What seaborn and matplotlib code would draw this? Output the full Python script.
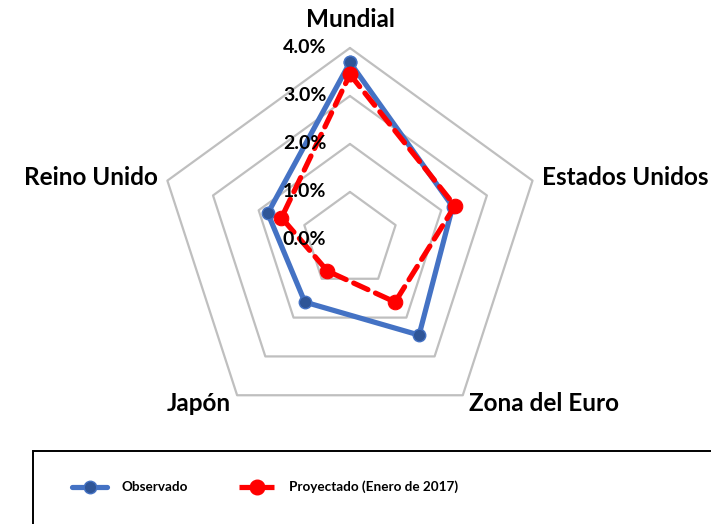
import numpy as np
import matplotlib
matplotlib.use("Agg")
import matplotlib.pyplot as plt
from matplotlib.lines import Line2D
from matplotlib.patches import Rectangle
from matplotlib.legend_handler import HandlerLine2D
import seaborn as sns

# radar data (annual growth, %)
categories = ["Mundial", "Estados Unidos", "Zona del Euro", "Japón", "Reino Unido"]
observado = [3.7, 2.25, 2.45, 1.6, 1.8]
proyectado = [3.45, 2.3, 1.6, 0.8, 1.5]
ticks = [1, 2, 3, 4]
tick_labels = ["0.0%", "1.0%", "2.0%", "3.0%", "4.0%"]
label_pos = [(4.6, "center"), (4.2, "left"), (4.22, "left"), (4.22, "right"), (4.2, "right")]

sns.set_theme(style="white")
plt.rcParams["font.family"] = ["Lato", "DejaVu Sans"]
plt.rcParams["text.color"] = "black"


class EndMarker(HandlerLine2D):
    # Excel-style legend key: marker sits near the right end of the line
    def get_xdata(self, legend, xdescent, ydescent, width, height, fontsize):
        xdata = np.array([-xdescent, -xdescent + width])
        return xdata, np.array([-xdescent + width * 0.88])


angles = np.linspace(0, 2 * np.pi, len(categories), endpoint=False)
closed = np.append(angles, angles[0])

fig = plt.figure(figsize=(7.11, 5.24), dpi=100)
ax = fig.add_axes([0.2222, 0.1756, 0.540, 0.733], projection="polar")
ax.set_theta_zero_location("N")
ax.set_theta_direction(-1)
ax.set_ylim(0, 4)
ax.grid(False)
ax.spines["polar"].set_visible(False)
ax.set_xticks([])
ax.set_yticks([])
ax.patch.set_alpha(0)

# pentagon gridlines
for t in ticks:
    ax.plot(closed, [t] * len(closed), color="#bfbfbf", lw=1.6, clip_on=False, zorder=1)

sns.lineplot(x=closed, y=observado + observado[:1], ax=ax, sort=False, estimator=None,
             color="#4472C4", lw=3.75, marker="o", markersize=9,
             markerfacecolor="#2F5597", markeredgecolor="#4472C4", markeredgewidth=1,
             clip_on=False, zorder=3)
sns.lineplot(x=closed, y=proyectado + proyectado[:1], ax=ax, sort=False, estimator=None,
             color="#FF0000", lw=3.75, linestyle=(0, (3, 1.6)), dash_capstyle="round",
             marker="o", markersize=10.5, markerfacecolor="#FF0000", markeredgecolor="#FF0000",
             clip_on=False, zorder=4)
ax.set_xlabel("")
ax.set_ylabel("")

# radial tick labels
for i, lab in enumerate(tick_labels):
    ax.annotate(lab, xy=(0, i), xytext=(-17, 0), textcoords="offset points",
                ha="right", va="center", fontsize=14, fontweight="bold", zorder=5)

# category labels
for ang, cat, (r, ha) in zip(angles, categories, label_pos):
    ax.text(ang, r, cat, ha=ha, va="center", fontsize=17.5, fontweight="bold")

handles = [
    Line2D([], [], color="#4472C4", lw=3.75, marker="o", markersize=9,
           markerfacecolor="#2F5597", markeredgecolor="#4472C4"),
    Line2D([], [], color="#FF0000", lw=3.75, linestyle=(0, (3, 1.6)), marker="o",
           markersize=10.5, markerfacecolor="#FF0000", markeredgecolor="#FF0000"),
]
fig.legend(handles, ["Observado", "Proyectado (Enero de 2017)"], loc="center left",
           bbox_to_anchor=(72 / 711, 1 - 487 / 524), ncol=2, frameon=False,
           borderaxespad=0, borderpad=0, handlelength=2.6, handletextpad=1.1,
           columnspacing=3.8, handler_map={Line2D: EndMarker()},
           prop=dict(weight="bold", size=9.7))
fig.add_artist(Rectangle((33 / 711, -0.05), 1.0, (524 - 451) / 524 + 0.05,
                         transform=fig.transFigure, fill=False, edgecolor="black", lw=1.4))

fig.savefig("out.png", dpi=100)
